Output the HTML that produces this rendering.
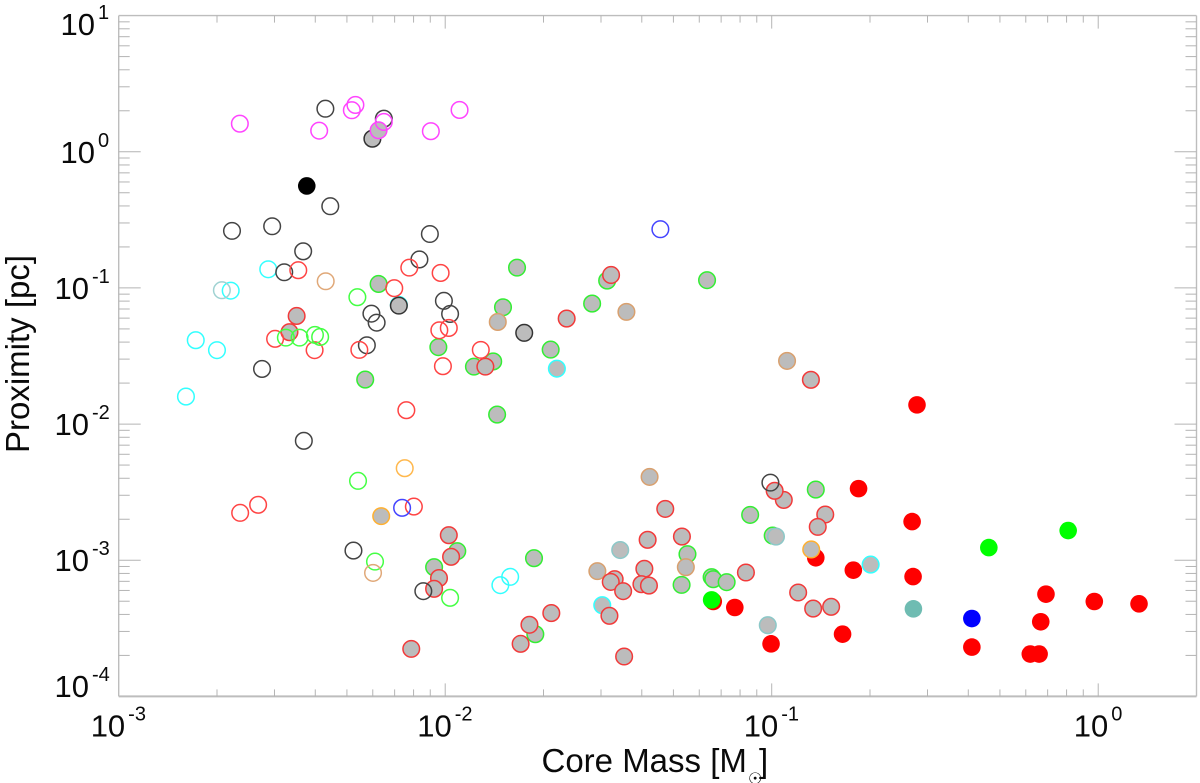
<!DOCTYPE html>
<html lang="en">
<head>
<meta charset="utf-8">
<title>Proximity vs Core Mass</title>
<style>
html,body{margin:0;padding:0;background:#fff;width:1200px;height:783px;overflow:hidden}
svg{display:block}
text{font-family:"Liberation Sans",Arial,sans-serif;fill:#0a0a0a}
</style>
</head>
<body>
<svg id="chart" xmlns="http://www.w3.org/2000/svg" width="1200" height="783" viewBox="0 0 1200 783">
<rect x="0" y="0" width="1200" height="783" fill="#ffffff"/>
<text x="541.5" y="772" font-size="33">Core Mass [M</text>
<text x="748" y="784" font-size="16" style="font-family:'DejaVu Sans',sans-serif">☉</text>
<text x="759" y="772" font-size="33">]</text>
<text transform="translate(29,453) rotate(-90)" x="0" y="0" font-size="33">Proximity [pc]</text>
</svg>
<script>
// Values are log10(core mass / Msun) and log10(proximity / pc).
const xTickExponents = [-3, -2, -1, 0];
const yTickExponents = [1, 0, -1, -2, -3, -4];
const minorMultipliers = [2, 3, 4, 5, 6, 7, 8, 9];

const solidRedMass = [-0.555,-0.734,-0.865,-0.750,-1.179,-1.113,-1.002,-0.783,-0.570,-0.567,-0.160,-0.012,0.125,-0.176,-0.387,-0.208,-0.181];
const solidRedProx = [-1.859,-2.474,-2.982,-3.073,-3.303,-3.347,-3.614,-3.543,-2.716,-3.120,-3.249,-3.303,-3.320,-3.452,-3.638,-3.689,-3.689];
const solidGreenMass = [-1.184,-0.335,-0.092];
const solidGreenProx = [-3.291,-2.907,-2.782];
const solidBlueMass = [-0.387];
const solidBlueProx = [-3.428];
const solidTealMass = [-0.566];
const solidTealProx = [-3.357];
const solidBlackMass = [-2.424];
const solidBlackProx = [-0.251];

const openBlackMass = [-2.367,-2.188,-2.352,-2.530,-2.653,-2.435,-2.047,-2.079,-2.493,-2.004,-1.985,-2.226,-2.210,-2.240,-2.561,-2.433,-2.281,-2.067,-1.004];
const openBlackProx = [0.316,0.243,-0.400,-0.547,-0.581,-0.731,-0.604,-0.791,-0.885,-1.095,-1.191,-1.189,-1.255,-1.421,-1.595,-2.123,-2.929,-3.227,-2.430];
const openCyanMass = [-2.542,-2.657,-2.764,-2.699,-2.794,-1.831,-1.801,-2.142];
const openCyanProx = [-0.863,-1.020,-1.384,-1.457,-1.798,-3.183,-3.122,-1.125];
const openPaleTealMass = [-2.684];
const openPaleTealProx = [-1.017];
const openRedMass = [-2.450,-2.110,-2.014,-2.156,-2.521,-2.400,-2.263,-2.018,-1.989,-1.891,-2.007,-2.119,-2.096,-2.628,-2.573];
const openRedProx = [-0.870,-0.851,-0.890,-1.002,-1.374,-1.457,-1.455,-1.311,-1.294,-1.455,-1.575,-1.898,-2.606,-2.652,-2.593];
const openGreenMass = [-2.269,-2.488,-2.446,-2.399,-2.383,-2.267,-2.215,-1.985];
const openGreenProx = [-1.068,-1.365,-1.365,-1.345,-1.360,-2.417,-3.010,-3.276];
const openTanMass = [-2.366,-2.221];
const openTanProx = [-0.951,-3.093];
const openOrangeMass = [-2.124];
const openOrangeProx = [-2.324];
const openBlueMass = [-1.341,-2.132];
const openBlueProx = [-0.569,-2.615];
const openMagentaMass = [-2.629,-2.386,-2.286,-2.275,-2.188,-2.044,-1.956];
const openMagentaProx = [0.206,0.155,0.305,0.344,0.219,0.151,0.307];

const grayGreenMass = [-2.204,-2.021,-1.912,-1.853,-2.245,-1.841,-1.823,-1.780,-1.550,-1.504,-1.198,-1.677,-1.963,-2.034,-1.728,-1.724,-1.066,-0.865,-0.997,-1.258,-1.276,-1.184,-1.179,-1.138];
const grayGreenProx = [-0.971,-1.435,-1.578,-1.540,-1.673,-1.930,-1.142,-0.851,-1.115,-0.946,-0.943,-1.453,-2.933,-3.051,-2.985,-3.543,-2.667,-2.481,-2.819,-2.955,-3.181,-3.124,-3.139,-3.161];
const grayTealMass = [-1.464,-0.987,-1.012];
const grayTealProx = [-2.925,-2.826,-3.477];
const grayCyanMass = [-1.658,-1.519,-0.697];
const grayCyanProx = [-1.593,-3.330,-3.032];
const grayTanMass = [-1.839,-1.445,-0.953,-1.374,-1.534,-1.263];
const grayTanProx = [-1.250,-1.176,-1.536,-2.388,-3.080,-3.051];
const grayOrangeMass = [-2.196,-0.879];
const grayOrangeProx = [-2.676,-2.921];
const grayRedMass = [-2.455,-2.477,-1.877,-1.492,-1.628,-0.880,-1.989,-1.982,-2.019,-2.034,-2.104,-1.675,-1.742,-1.769,-1.326,-1.380,-1.275,-1.390,-1.481,-1.493,-1.455,-1.399,-1.376,-1.497,-1.452,-1.079,-0.919,-0.873,-0.818,-0.836,-0.859,-0.963,-0.991];
const grayRedProx = [-1.206,-1.325,-1.578,-0.905,-1.225,-1.675,-2.816,-2.975,-3.131,-3.210,-3.651,-3.388,-3.474,-3.614,-2.623,-2.850,-2.826,-3.063,-3.139,-3.159,-3.227,-3.176,-3.186,-3.408,-3.707,-3.090,-3.237,-3.355,-3.342,-2.664,-2.755,-2.557,-2.490];
const grayBlackMass = [-2.223,-2.142,-1.758];
const grayBlackProx = [0.096,-1.130,-1.330];
const grayMagentaMass = [-2.204];
const grayMagentaProx = [0.158];

const svg = document.getElementById('chart');
const NS = 'http://www.w3.org/2000/svg';

const plot = {left: 118.7, right: 1196.5, top: 15.6, bottom: 696.4};
const xMinExp = -3, xMaxExp = Math.log10(2), yMinExp = -4, yMaxExp = 1;
function xScale(logMass) {
  return plot.left + (logMass - xMinExp) / (xMaxExp - xMinExp) * (plot.right - plot.left);
}
function yScale(logProx) {
  return plot.bottom - (logProx - yMinExp) / (yMaxExp - yMinExp) * (plot.bottom - plot.top);
}

function addLine(x1, y1, x2, y2, width, color, name) {
  const el = document.createElementNS(NS, 'line');
  el.setAttribute('x1', x1);
  el.setAttribute('y1', y1);
  el.setAttribute('x2', x2);
  el.setAttribute('y2', y2);
  el.setAttribute('stroke', color);
  el.setAttribute('stroke-width', width);
  
  
  svg.appendChild(el);
}

function addExpLabel(x, baseline, exponent, name) {
  const el = document.createElementNS(NS, 'text');
  el.setAttribute('x', x);
  el.setAttribute('y', baseline);
  el.setAttribute('font-size', '31');
  
  
  const base = document.createElementNS(NS, 'tspan');
  base.textContent = '10';
  el.appendChild(base);
  const sup = document.createElementNS(NS, 'tspan');
  sup.setAttribute('dx', '3');
  sup.setAttribute('dy', '-16');
  sup.setAttribute('font-size', '20');
  sup.textContent = String(exponent);
  el.appendChild(sup);
  svg.appendChild(el);
}

// Axis frame and ticks
const axisColor = '#bdbdbd';
const tickColor = '#b4b4b4';
addLine(plot.left, plot.top, plot.right, plot.top, 1.4, axisColor, 'top-axis-line');
addLine(plot.left, plot.bottom, plot.right, plot.bottom, 2, axisColor, 'bottom-axis-line');
addLine(plot.left, plot.top, plot.left, plot.bottom, 1.4, axisColor, 'left-axis-line');
addLine(plot.right, plot.top, plot.right, plot.bottom, 1.4, axisColor, 'right-axis-line');

xTickExponents.forEach(function (exp) {
  const px = xScale(exp);
  if (exp > xMinExp) {
    addLine(px, plot.bottom, px, plot.bottom - 13, 1, tickColor, 'x-major-tick-bottom');
    addLine(px, plot.top, px, plot.top + 13, 1, tickColor, 'x-major-tick-top');
  }
  const start = exp === 0 ? px - 24.5 : px - 28;
  addExpLabel(start, 736.7, exp, 'x-tick-label');
  if (exp < 0) {
    minorMultipliers.forEach(function (m) {
      const mx = xScale(exp + Math.log10(m));
      addLine(mx, plot.bottom, mx, plot.bottom - 7, 1, tickColor, 'x-minor-tick-bottom');
      addLine(mx, plot.top, mx, plot.top + 7, 1, tickColor, 'x-minor-tick-top');
    });
  }
});

yTickExponents.forEach(function (exp) {
  const py = yScale(exp);
  if (exp > yMinExp && exp < yMaxExp) {
    addLine(plot.left, py, plot.left + 22, py, 1, tickColor, 'y-major-tick-left');
    addLine(plot.right, py, plot.right - 22, py, 1, tickColor, 'y-major-tick-right');
  }
  const baseline = Math.min(697, Math.max(35, py + 11));
  addExpLabel(exp < 0 ? 54.5 : 60.5, baseline, exp, 'y-tick-label');
  if (exp > yMinExp - 1 && exp < yMaxExp) {
    minorMultipliers.forEach(function (m) {
      const my = yScale(exp + Math.log10(m));
      addLine(plot.left, my, plot.left + 11, my, 1, tickColor, 'y-minor-tick-left');
      addLine(plot.right, my, plot.right - 11, my, 1, tickColor, 'y-minor-tick-right');
    });
  }
});

// Marks
function addPoints(masses, proxes, fill, stroke, name) {
  masses.forEach(function (m, i) {
    const el = document.createElementNS(NS, 'circle');
    el.setAttribute('cx', xScale(m));
    el.setAttribute('cy', yScale(proxes[i]));
    el.setAttribute('r', stroke === 'none' ? 8.8 : 8.3);
    el.setAttribute('fill', fill);
    el.setAttribute('stroke', stroke);
    el.setAttribute('stroke-width', stroke === 'none' ? 0 : 1.5);
    
    
    svg.appendChild(el);
  });
}

const gray = '#bcbcbc';
addPoints(solidRedMass, solidRedProx, '#ff0000', 'none', 'core-point-solid-red');
addPoints(solidGreenMass, solidGreenProx, '#00ff00', 'none', 'core-point-solid-green');
addPoints(solidBlueMass, solidBlueProx, '#0000ff', 'none', 'core-point-solid-blue');
addPoints(solidTealMass, solidTealProx, '#6fbcb2', 'none', 'core-point-solid-teal');
addPoints(solidBlackMass, solidBlackProx, '#000000', 'none', 'core-point-solid-black');
addPoints(openCyanMass, openCyanProx, 'none', '#33ffff', 'core-point-open-cyan');
addPoints(openPaleTealMass, openPaleTealProx, 'none', '#9fd2d2', 'core-point-open-pale-teal');
addPoints(grayGreenMass, grayGreenProx, gray, '#33ee33', 'core-point-gray-green-ring');
addPoints(grayTealMass, grayTealProx, gray, '#8cc8c8', 'core-point-gray-teal-ring');
addPoints(grayCyanMass, grayCyanProx, gray, '#33ffff', 'core-point-gray-cyan-ring');
addPoints(grayTanMass, grayTanProx, gray, '#d9a06e', 'core-point-gray-tan-ring');
addPoints(grayOrangeMass, grayOrangeProx, gray, '#ffb030', 'core-point-gray-orange-ring');
addPoints(grayRedMass, grayRedProx, gray, '#f23a3a', 'core-point-gray-red-ring');
addPoints(grayBlackMass, grayBlackProx, gray, '#333333', 'core-point-gray-black-ring');
addPoints(openBlackMass, openBlackProx, 'none', '#444444', 'core-point-open-black');
addPoints(openRedMass, openRedProx, 'none', '#ff4444', 'core-point-open-red');
addPoints(openGreenMass, openGreenProx, 'none', '#44ff44', 'core-point-open-green');
addPoints(openTanMass, openTanProx, 'none', '#e0a878', 'core-point-open-tan');
addPoints(openOrangeMass, openOrangeProx, 'none', '#ffb84d', 'core-point-open-orange');
addPoints(openBlueMass, openBlueProx, 'none', '#4444ff', 'core-point-open-blue');
addPoints(grayMagentaMass, grayMagentaProx, gray, '#ff44ff', 'core-point-gray-magenta-ring');
addPoints(openMagentaMass, openMagentaProx, 'none', '#ff44ff', 'core-point-open-magenta');
</script>
</body>
</html>
